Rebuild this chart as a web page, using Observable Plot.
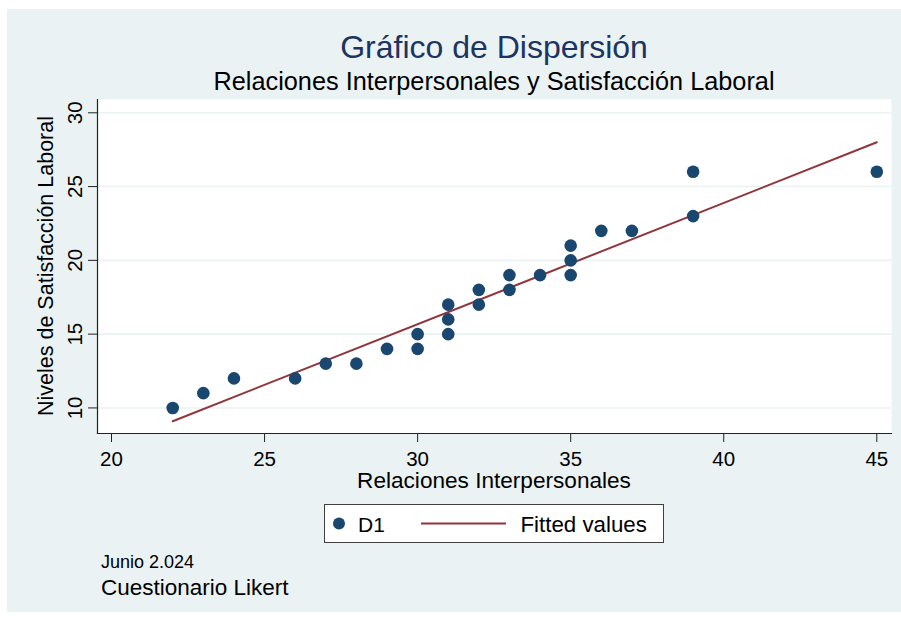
<!DOCTYPE html>
<html>
<head>
<meta charset="utf-8">
<script src="https://cdn.jsdelivr.net/npm/d3@7"></script>
<script src="https://cdn.jsdelivr.net/npm/@observablehq/plot@0.6"></script>
<style>
  html, body { margin: 0; padding: 0; background: #ffffff; }
  #wrap { position: relative; width: 901px; height: 619px; overflow: hidden; font-family: "Liberation Sans", Arial, sans-serif; }
  #bg { position: absolute; left: 7px; top: 9px; width: 894px; height: 603px; background: #eaf2f3; }
  #chart { position: absolute; left: 0; top: 0; }
  #overlay { position: absolute; left: 0; top: 0; pointer-events: none; }
</style>
</head>
<body>
<div id="wrap">
  <div id="bg"></div>
  <div id="chart"></div>
  <svg id="overlay" width="901" height="619"></svg>
</div>
<script>
// ---- data ----
const relaciones   = [22, 23, 24, 26, 27, 28, 29, 30, 30, 31, 31, 31, 32, 32, 33, 33, 34, 35, 35, 35, 36, 37, 39, 39, 45];
const satisfaccion = [10, 11, 12, 12, 13, 13, 14, 14, 15, 15, 16, 17, 17, 18, 18, 19, 19, 19, 20, 21, 22, 22, 23, 26, 26];
const fittedX = [22, 45];
const fittedY = [9.1, 28.0];
const xTicks = [20, 25, 30, 35, 40, 45];
const yTicks = [10, 15, 20, 25, 30];
const titleText = "Gráfico de Dispersión";
const subtitleText = "Relaciones Interpersonales y Satisfacción Laboral";
const xLabel = "Relaciones Interpersonales";
const yLabel = "Niveles de Satisfacción Laboral";
const legendLabels = ["D1", "Fitted values"];
const note1 = "Junio 2.024";
const note2 = "Cuestionario Likert";

const points = relaciones.map((x, i) => ({x, y: satisfaccion[i]}));
const fitted = fittedX.map((x, i) => ({x, y: fittedY[i]}));

const navy = "#1a476f";
const maroon = "#90353b";

const plot = Plot.plot({
  width: 901,
  height: 619,
  marginTop: 99,
  marginLeft: 97,
  marginRight: 10,
  marginBottom: 186,
  style: {background: "transparent", fontFamily: "Liberation Sans, Arial, sans-serif", fontSize: "20px", color: "#000"},
  x: {domain: [19.543, 45.48], ticks: xTicks, label: null},
  y: {domain: [8.267, 30.9], ticks: yTicks, label: null},
  marks: [
    Plot.frame({fill: "white", stroke: "none"}),
    Plot.gridY(yTicks, {stroke: "#eaf2f3", strokeOpacity: 1, strokeWidth: 1.6}),
    Plot.axisX(xTicks, {tickSize: 9, tickPadding: 9, fontSize: 20.5, stroke: "#222", fill: "#000", label: null}),
    Plot.axisY(yTicks, {tickSize: 9, tickPadding: 7, fontSize: 20.5, tickRotate: -90, textAnchor: "middle", lineAnchor: "bottom", stroke: "#222", fill: "#000", label: null}),
    Plot.frame({anchor: "left", stroke: "#222", strokeWidth: 1.2}),
    Plot.frame({anchor: "bottom", stroke: "#222", strokeWidth: 1.2}),
    Plot.line(fitted, {x: "x", y: "y", stroke: maroon, strokeWidth: 2}),
    Plot.dot(points, {x: "x", y: "y", r: 6.3, fill: navy, stroke: "none"})
  ]
});
document.getElementById("chart").appendChild(plot);

// ---- overlay text & legend ----
const svg = d3.select("#overlay").style("font-family", "Liberation Sans, Arial, sans-serif");
svg.append("text").attr("x", 494).attr("y", 58).attr("text-anchor", "middle")
  .attr("font-size", 32).attr("fill", "#1c3461").text(titleText);
svg.append("text").attr("x", 494).attr("y", 90).attr("text-anchor", "middle")
  .attr("font-size", 25.3).attr("fill", "#000").text(subtitleText);
svg.append("text").attr("x", 494).attr("y", 488).attr("text-anchor", "middle")
  .attr("font-size", 22.6).attr("fill", "#000").text(xLabel);
svg.append("text").attr("transform", "translate(53,266) rotate(-90)").attr("text-anchor", "middle")
  .attr("font-size", 21.5).attr("fill", "#000").text(yLabel);

// legend
const lg = svg.append("g");
lg.append("rect").attr("x", 324.5).attr("y", 504.5).attr("width", 339).attr("height", 38)
  .attr("fill", "white").attr("stroke", "#404040").attr("stroke-width", 1);
lg.append("circle").attr("cx", 339).attr("cy", 523.5).attr("r", 6).attr("fill", navy);
lg.append("text").attr("x", 358).attr("y", 531.5).attr("font-size", 21).attr("fill", "#000").text(legendLabels[0]);
lg.append("line").attr("x1", 421).attr("x2", 506).attr("y1", 523.5).attr("y2", 523.5)
  .attr("stroke", maroon).attr("stroke-width", 2);
lg.append("text").attr("x", 520.5).attr("y", 531.5).attr("font-size", 22.3).attr("fill", "#000").text(legendLabels[1]);

// notes
svg.append("text").attr("x", 101).attr("y", 567.5).attr("font-size", 18).attr("fill", "#000").text(note1);
svg.append("text").attr("x", 101).attr("y", 595).attr("font-size", 22.5).attr("fill", "#000").text(note2);
</script>
</body>
</html>
